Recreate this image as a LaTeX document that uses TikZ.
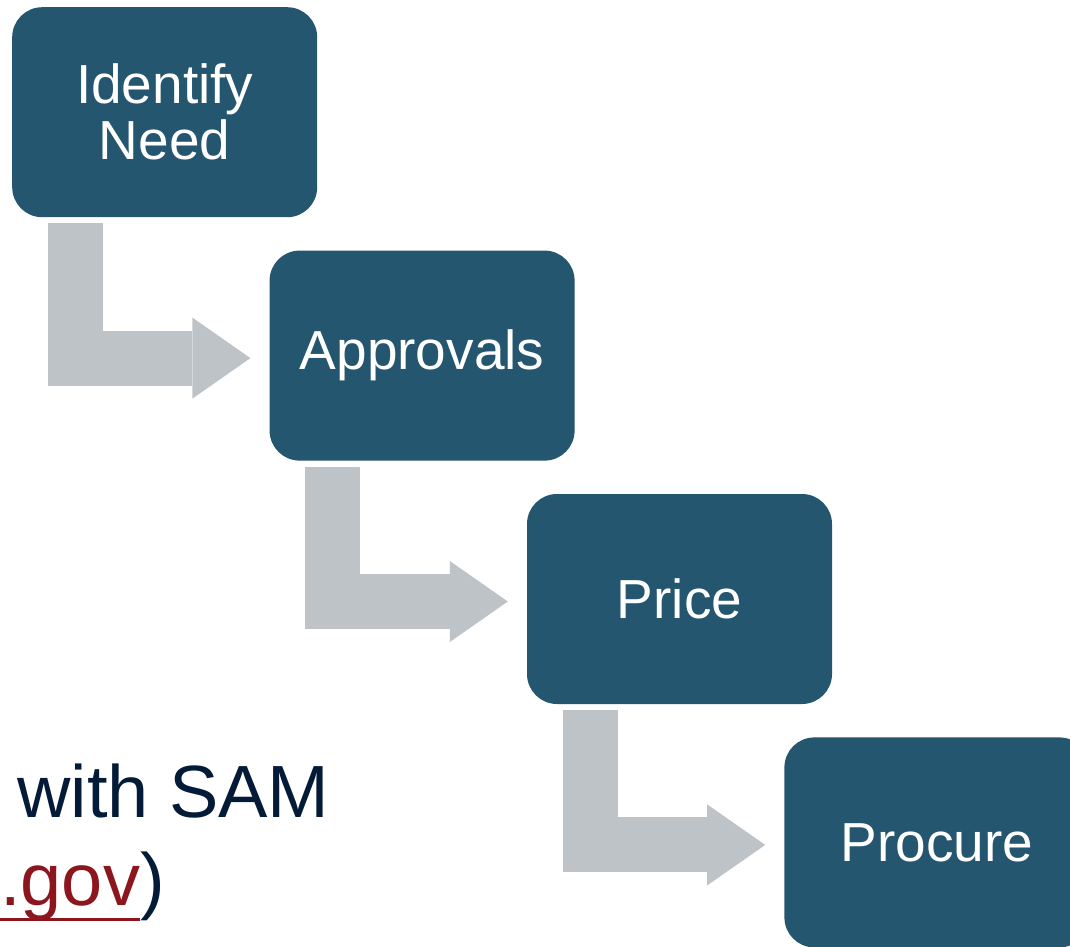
\documentclass[tikz,border=0pt]{standalone}
\usepackage{fontspec}
\setmainfont{Liberation Sans}
\usepackage{tikz}
\usetikzlibrary{arrows.meta,%
                shapes,positioning}
\usetikzlibrary{calc}
\definecolor{boxblue}{RGB}{36,86,111}
\definecolor{arrowgray}{RGB}{190,195,200}
\definecolor{textnavy}{RGB}{4,27,56}
\definecolor{linkred}{RGB}{139,22,30}

\begin{document}
\begin{tikzpicture}[x=1pt,y=1pt]
  \clip (0,0) rectangle (1070,-946);
  \tikzset{BoxStyle/.style = {fill=boxblue, shape=rectangle, rounded corners=30pt, minimum width=305pt, minimum height=210pt, inner sep=0pt, text=white, align=center, font=\fontsize{55}{56}\selectfont}}
  \tikzset{ArrowStyle/.style = {draw=arrowgray, line width=55pt, -{Triangle[width=81pt, length=58pt, line width=0pt, fill=arrowgray]}, shorten <=6pt, shorten >=19pt}}
  \tikzset{TextStyle/.style = {inner sep=0pt, text=textnavy, font=\fontsize{74}{88}\selectfont}}


  \node(1)[BoxStyle, anchor=north west] at (12,-7) {Identify\\Need};
  \node(2)[BoxStyle, below right=33pt and -48pt of 1]{Approvals};
  \node(3)[BoxStyle, below right=33pt and -48pt of 2]{Price};
  \node(4)[BoxStyle, below right=33pt and -48pt of 3]{Procure};
  \node(5)[TextStyle, anchor=base west] at (17,-817) {with SAM};
  \node(6)[TextStyle, anchor=base west, text=linkred] at (0,-905) {.gov};
  \node(7)[TextStyle, anchor=base west] at (6.base east) {)};

     \draw[ArrowStyle] ([xshift=63.5pt]1.south west) |- ([yshift=-2.5pt]2.west);
     \draw[ArrowStyle] ([xshift=63.5pt]2.south west) |- ([yshift=-2.5pt]3.west);
     \draw[ArrowStyle] ([xshift=63.5pt]3.south west) |- ([yshift=-2.5pt]4.west);
      \draw[linkred, line width=3pt] ([yshift=-14pt]6.base west) -- ([yshift=-14pt]6.base east);



 \end{tikzpicture}
\end{document}
